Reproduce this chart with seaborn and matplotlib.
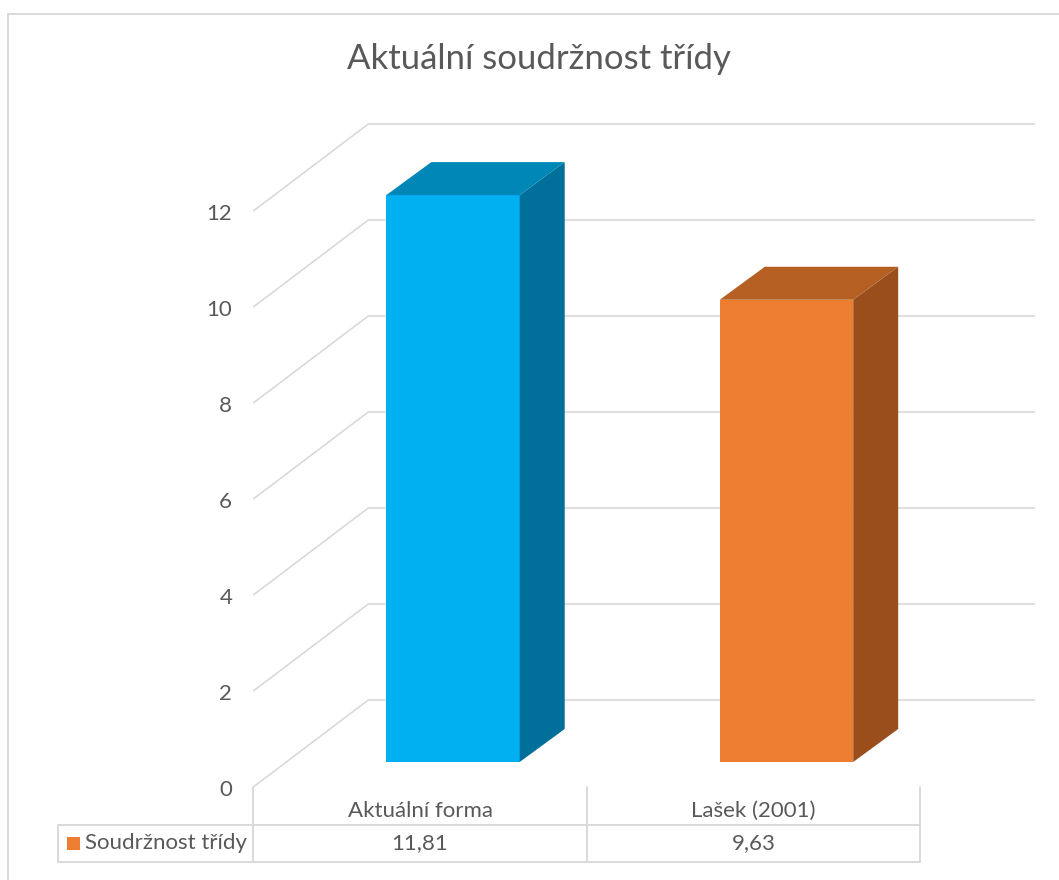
import matplotlib
matplotlib.use("Agg")
import matplotlib.pyplot as plt
from matplotlib.patches import Polygon, Rectangle
import seaborn as sns
import pandas as pd

# ---- data ----
title = "Aktuální soudržnost třídy"
categories = ["Aktuální forma", "Lašek (2001)"]
values = [11.81, 9.63]
value_labels = ["11,81", "9,63"]
series_name = "Soudržnost třídy"
y_ticks = [0, 2, 4, 6, 8, 10, 12]

front_colors = ["#00B0F0", "#ED7D31"]
side_colors = ["#006F99", "#9A4E1C"]
top_colors = ["#0086B7", "#B55F22"]
grid_c = "#D9D9D9"
text_c = "#595959"

sns.set_theme(style="white")
plt.rcParams["font.family"] = ["Lato", "DejaVu Sans"]

W, H = 1059, 880
fig = plt.figure(figsize=(W / 100, H / 100), dpi=100)
ax = fig.add_axes([0, 0, 1, 1])

# pixel geometry of the bar plane
X0, SX = 453.0, 333.5   # px of category 0 centre, px per category
Y0, SY = 762.0, 48.0    # px of value 0 in bar plane, px per unit


def px(xp, yp):
    return (xp - X0) / SX, (Y0 - yp) / SY


def off(d):
    # depth offset (d=0 front floor, d=1 back wall) in data units
    return (-33 + 115 * d) / SX, (-25 + 87 * d) / SY


df = pd.DataFrame({"cat": categories, "val": values})
sns.barplot(data=df, x="cat", y="val", hue="cat", palette=front_colors,
            saturation=1, width=0.4, legend=False, ax=ax, zorder=5,
            linewidth=0)

ax.set_xlim(-X0 / SX, (W - X0) / SX)
ax.set_ylim((Y0 - H) / SY, Y0 / SY)
ax.axis("off")

# walls / gridlines
n = len(categories)
xl, xr = -0.5, n - 0.5
f0, f1 = off(0), off(1)
for v in y_ticks:
    ax.plot([xl + f0[0], xl + f1[0]], [v + f0[1], v + f1[1]],
            color=grid_c, lw=1.2, zorder=1, solid_capstyle="butt")
    ax.plot([xl + f1[0], xr + f1[0]], [v + f1[1], v + f1[1]],
            color=grid_c, lw=1.2, zorder=1, solid_capstyle="butt")
    ax.text(xl + f0[0] - 21 / SX, v + f0[1] - 3 / SY, str(v), ha="right",
            va="center", fontsize=16, color=text_c)

# 3D sides and tops
ddx, ddy = 45 / SX, 33 / SY
hw = 0.2
for i, v in enumerate(values):
    a, b = i - hw, i + hw
    ax.add_patch(Polygon([(b, 0), (b + ddx, ddy), (b + ddx, v + ddy), (b, v)],
                         closed=True, facecolor=side_colors[i],
                         edgecolor="none", zorder=6))
    ax.add_patch(Polygon([(a, v), (a + ddx, v + ddy), (b + ddx, v + ddy), (b, v)],
                         closed=True, facecolor=top_colors[i],
                         edgecolor="none", zorder=6))

# data table
y_top = f0[1]
y_mid = px(0, 825)[1]
y_bot = px(0, 862)[1]
x_lab = px(58, 0)[0]
cols = [c - 0.5 + f0[0] for c in range(n + 1)]
for xc in cols:
    ax.plot([xc, xc], [y_top, y_bot], color=grid_c, lw=1.4, zorder=2)
ax.plot([x_lab, x_lab], [y_mid, y_bot], color=grid_c, lw=1.4, zorder=2)
for yy in (y_mid, y_bot):
    ax.plot([x_lab, cols[-1]], [yy, yy], color=grid_c, lw=1.4, zorder=2)

y_cat = px(0, 811)[1]
y_val = px(0, 843)[1]
for i, (c, lab) in enumerate(zip(categories, value_labels)):
    ax.text(i + f0[0], y_cat, c, ha="center", va="center",
            fontsize=16, color=text_c)
    ax.text(i + f0[0], y_val, lab, ha="center", va="center",
            fontsize=16, color=text_c)

kx0, ky0 = px(67, 850)
kx1, ky1 = px(80, 837)
ax.add_patch(Rectangle((kx0, ky0), kx1 - kx0, ky1 - ky0,
                       facecolor=front_colors[1], edgecolor="none", zorder=3))
ax.text(px(85, 0)[0], y_val, series_name, ha="left", va="center",
        fontsize=16, color=text_c)

# title
tx, ty = px(539, 59)
ax.text(tx, ty, title, ha="center", va="center", fontsize=25, color=text_c)

# outer chart border
fig.add_artist(plt.Line2D([8 / W, 8 / W], [0, 1 - 14 / H],
                          transform=fig.transFigure, color=grid_c, lw=1.4))
fig.add_artist(plt.Line2D([8 / W, 1], [1 - 14 / H, 1 - 14 / H],
                          transform=fig.transFigure, color=grid_c, lw=1.4))

fig.savefig("out.png", dpi=100, facecolor="white")
